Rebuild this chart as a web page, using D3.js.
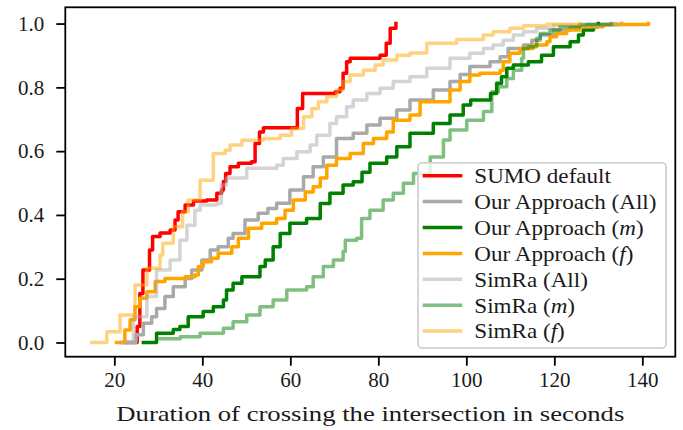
<!DOCTYPE html>
<html>
<head>
<meta charset="utf-8">
<script src="https://cdn.jsdelivr.net/npm/d3@7"></script>
<style>
  html, body { margin: 0; padding: 0; background: #fff; }
  svg { display: block; }
  text { font-family: "Liberation Serif", "Times New Roman", serif; fill: #1a1a1a; }
</style>
</head>
<body>
<svg id="chart" width="683" height="430"></svg>
<script>
// ---------- data ----------
const xTickValues = [20, 40, 60, 80, 100, 120, 140];
const yTickValues = [0.0, 0.2, 0.4, 0.6, 0.8, 1.0];
const xLabel = "Duration of crossing the intersection in seconds";

const sumoDefault = [[22.8,0],[25.2,0.05],[25.8,0.154],[26.5,0.227],[28.0,0.29],[28.7,0.332],[30.4,0.343],[32.7,0.353],[33.8,0.384],[34.5,0.41],[36.1,0.431],[38.0,0.444],[41.0,0.447],[43.3,0.468],[44.4,0.478],[44.8,0.505],[45.3,0.53],[46.3,0.551],[48.2,0.562],[51.2,0.567],[52.0,0.624],[53.0,0.66],[53.9,0.673],[61.6,0.734],[62.8,0.781],[70.2,0.786],[71.3,0.797],[72.0,0.844],[72.8,0.88],[73.6,0.891],[80.4,0.901],[81.8,0.938],[82.7,0.985],[84.0,1.0]];

const ourAll = [[21.7,0],[24.9,0.024],[26.6,0.06],[28.5,0.081],[29.6,0.107],[31.5,0.144],[33.4,0.175],[36.1,0.201],[37.6,0.227],[39.9,0.259],[41.8,0.29],[43.6,0.30],[45.9,0.327],[47.0,0.342],[49.7,0.384],[52.7,0.405],[54.9,0.42],[56.9,0.437],[59.9,0.478],[63.0,0.52],[65.2,0.551],[67.5,0.582],[70.5,0.64],[74.3,0.656],[77.4,0.682],[80.4,0.703],[84.2,0.729],[87.2,0.76],[92.5,0.792],[96.3,0.818],[98.6,0.84],[100.8,0.865],[105.4,0.88],[107.7,0.896],[109.5,0.922],[113.0,0.933],[114.9,0.948],[116.8,0.964],[119.8,0.98],[123.6,0.99],[127.4,0.997],[135.3,1.0]];

const ourM = [[26.6,0],[29.6,0.029],[33.4,0.041],[34.9,0.05],[36.8,0.081],[40.2,0.097],[42.5,0.112],[44.8,0.133],[45.5,0.165],[47.0,0.186],[49.0,0.206],[53.1,0.238],[54.3,0.259],[56.1,0.30],[57.7,0.342],[59.9,0.374],[63.7,0.389],[66.8,0.436],[69.0,0.468],[72.0,0.494],[74.3,0.504],[76.3,0.534],[78.1,0.562],[81.9,0.582],[84.2,0.614],[87.2,0.656],[92.5,0.687],[96.3,0.713],[99.3,0.745],[101.0,0.76],[105.5,0.781],[106.9,0.813],[108.0,0.833],[109.2,0.86],[110.7,0.87],[114.1,0.88],[117.1,0.901],[119.8,0.927],[123.6,0.943],[125.5,0.964],[126.6,0.98],[128.9,0.99],[130.0,1.0]];

const ourF = [[20.5,0],[22.4,0.039],[23.6,0.071],[24.7,0.112],[25.8,0.139],[27.4,0.159],[29.3,0.191],[31.5,0.201],[36.1,0.206],[38.3,0.212],[39.1,0.238],[40.2,0.253],[42.1,0.264],[43.6,0.28],[46.7,0.30],[48.2,0.327],[50.5,0.358],[53.5,0.374],[56.9,0.389],[58.8,0.415],[60.7,0.447],[63.4,0.472],[65.2,0.488],[66.8,0.516],[68.3,0.556],[70.5,0.577],[73.6,0.593],[76.6,0.624],[78.9,0.64],[81.9,0.66],[83.4,0.697],[87.2,0.713],[89.5,0.755],[96.3,0.792],[98.6,0.818],[100.8,0.839],[103.1,0.844],[107.7,0.854],[108.4,0.88],[109.9,0.907],[112.2,0.922],[115.2,0.933],[118.3,0.943],[119.0,0.959],[120.5,0.969],[122.8,0.98],[125.8,0.99],[131.1,0.997],[141.4,1.0]];

const simraAll = [[21.7,0],[24.3,0.081],[27.4,0.144],[29.6,0.227],[32.7,0.259],[34.9,0.321],[36.5,0.368],[38.3,0.415],[39.5,0.431],[43.3,0.436],[44.3,0.494],[45.5,0.516],[50.1,0.546],[56.9,0.556],[58.4,0.577],[61.5,0.598],[64.5,0.619],[66.0,0.65],[69.0,0.687],[70.5,0.708],[72.8,0.739],[74.3,0.76],[77.4,0.781],[80.4,0.797],[83.4,0.818],[87.2,0.833],[91.0,0.86],[96.3,0.891],[100.8,0.907],[103.9,0.922],[106.1,0.933],[108.4,0.948],[110.7,0.964],[113.0,0.974],[116.0,0.985],[119.8,0.995],[133.9,1.0]];

const simraM = [[30.4,0.012],[35.0,0.018],[39.5,0.029],[44.8,0.045],[47.0,0.065],[50.1,0.086],[53.1,0.112],[56.1,0.133],[59.2,0.165],[63.7,0.175],[65.2,0.206],[67.5,0.238],[69.8,0.259],[72.0,0.285],[72.5,0.321],[75.1,0.327],[76.2,0.389],[78.1,0.415],[81.1,0.447],[83.4,0.468],[85.7,0.499],[88.0,0.53],[91.8,0.582],[94.8,0.635],[96.3,0.666],[100.1,0.697],[103.9,0.724],[105.8,0.786],[107.3,0.802],[109.2,0.828],[110.7,0.854],[112.6,0.891],[113.0,0.922],[114.1,0.927],[116.0,0.954],[116.8,0.969],[119.0,0.98],[121.3,0.99],[125.8,0.997],[133.0,1.0]];

const simraF = [[14.9,0],[18.3,0.034],[21.3,0.086],[24.7,0.18],[27.4,0.233],[30.4,0.274],[31.0,0.311],[33.4,0.363],[35.5,0.41],[36.8,0.447],[39.5,0.509],[42.5,0.593],[45.2,0.603],[46.3,0.619],[49.0,0.634],[53.9,0.64],[57.7,0.65],[60.3,0.671],[63.0,0.708],[64.9,0.734],[66.4,0.755],[68.3,0.771],[70.5,0.792],[72.0,0.818],[73.6,0.839],[76.6,0.854],[79.3,0.87],[81.1,0.886],[84.2,0.901],[87.2,0.908],[91.0,0.938],[97.8,0.95],[103.9,0.964],[106.1,0.974],[109.9,0.985],[113.0,0.993],[118.3,0.998],[125.8,1.0]];

const seriesLabels = [
  ["SUMO default", null],
  ["Our Approach (", "All", ")"],
  ["Our Approach (", "m", ")"],
  ["Our Approach (", "f", ")"],
  ["SimRa (", "All", ")"],
  ["SimRa (", "m", ")"],
  ["SimRa (", "f", ")"]
];

// ---------- styling (kept apart from the data) ----------
const series = [
  { data: sumoDefault, color: "#ff0000", opacity: 1 },
  { data: ourAll,      color: "#a9a9a9", opacity: 1 },
  { data: ourM,        color: "#008000", opacity: 1 },
  { data: ourF,        color: "#ffa500", opacity: 1 },
  { data: simraAll,    color: "#a9a9a9", opacity: 0.5 },
  { data: simraM,      color: "#008000", opacity: 0.5 },
  { data: simraF,      color: "#ffa500", opacity: 0.5 }
];

const svg = d3.select("#chart");
const plot = { left: 65.3, right: 675.3, top: 7.3, bottom: 356.7 };

const x = d3.scaleLinear().domain([8.86, 147.5]).range([plot.left, plot.right]);
const y = d3.scaleLinear().domain([-0.0445, 1.051]).range([plot.bottom, plot.top]);

const FONT = 21;
const WIDEN = 1.1; // Computer Modern is wider than Times-metric fonts
const LW = 3.5;

function widen(sel, factor) {
  sel.each(function () {
    const w = this.getComputedTextLength();
    d3.select(this).attr("textLength", w * factor).attr("lengthAdjust", "spacingAndGlyphs");
  });
}

// lines
const line = d3.line().x(d => x(d[0])).y(d => y(d[1])).curve(d3.curveStepAfter);
const gLines = svg.append("g");
series.forEach(s => {
  gLines.append("path")
    .attr("d", line(s.data))
    .attr("fill", "none")
    .attr("stroke", s.color)
    .attr("stroke-opacity", s.opacity)
    .attr("stroke-width", LW)
    .attr("stroke-linejoin", "round")
    .attr("stroke-linecap", "square");
});

// axes
const xAxis = d3.axisBottom(x).tickValues(xTickValues).tickSize(9).tickPadding(6).tickFormat(d3.format("d"));
const yAxis = d3.axisLeft(y).tickValues(yTickValues).tickSize(9).tickPadding(12).tickFormat(d3.format(".1f"));

const gx = svg.append("g").attr("transform", `translate(0,${plot.bottom})`).call(xAxis);
const gy = svg.append("g").attr("transform", `translate(${plot.left},0)`).call(yAxis);
[gx, gy].forEach(g => {
  g.select(".domain").remove();
  g.selectAll(".tick line").attr("stroke", "#000").attr("stroke-width", 1.8);
  g.selectAll(".tick text").style("font-family", '"Liberation Serif", serif').style("font-size", FONT + "px").attr("fill", "#1a1a1a");
});
gx.selectAll(".tick text").attr("dy", "0.71em");

// frame (four spines)
svg.append("rect")
  .attr("x", plot.left).attr("y", plot.top)
  .attr("width", plot.right - plot.left).attr("height", plot.bottom - plot.top)
  .attr("fill", "none").attr("stroke", "#000").attr("stroke-width", 1.8);

// x label
svg.append("text")
  .attr("x", (plot.left + plot.right) / 2)
  .attr("y", 421)
  .attr("text-anchor", "middle")
  .style("font-size", FONT + "px")
  .attr("textLength", 508)
  .attr("lengthAdjust", "spacingAndGlyphs")
  .text(xLabel);

// legend
const lg = svg.append("g");
lg.append("rect")
  .attr("x", 418).attr("y", 162.7).attr("width", 248).attr("height", 185.3)
  .attr("rx", 4).attr("ry", 4)
  .attr("fill", "#fff").attr("fill-opacity", 0.8)
  .attr("stroke", "#cccccc").attr("stroke-width", 1.6);

series.forEach((s, i) => {
  const cy = 175.7 + i * 25.9;
  lg.append("line")
    .attr("x1", 422.7).attr("x2", 462.3).attr("y1", cy).attr("y2", cy)
    .attr("stroke", s.color).attr("stroke-opacity", s.opacity).attr("stroke-width", LW);
  const t = lg.append("text")
    .attr("x", 474.3).attr("y", cy)
    .attr("dy", "0.35em")
    .style("font-size", FONT + "px");
  const lab = seriesLabels[i];
  if (lab[1] === null) {
    t.text(lab[0]);
  } else {
    t.append("tspan").text(lab[0]);
    const mid = t.append("tspan").text(lab[1]);
    if (lab[1] !== "All") mid.style("font-style", "italic");
    t.append("tspan").text(lab[2]);
  }
  widen(t, WIDEN);
});
</script>
</body>
</html>
